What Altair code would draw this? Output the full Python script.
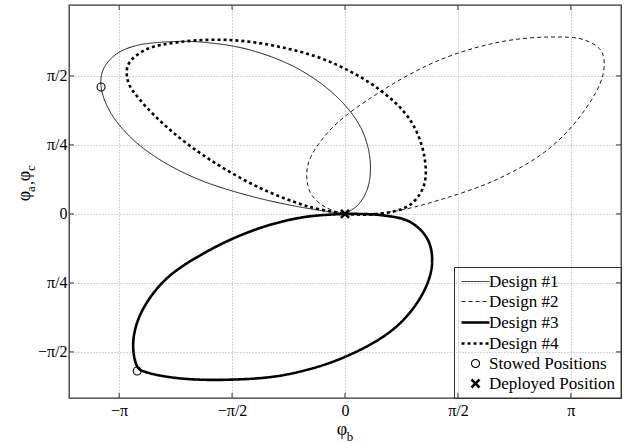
import altair as alt
import pandas as pd

# ---- data (angles in units of pi) ----
series_names = ["Design #1", "Design #2", "Design #3", "Design #4",
                "Stowed Positions", "Deployed Position"]

d1_x = [0, -0.199, -0.420, -0.642, -0.819, -0.951, -1.040, -1.080, -1.071, -1.018,
        -0.929, -0.796, -0.642, -0.420, -0.199, -0.022, 0.075, 0.111, 0.102, 0.058, 0]
d1_y = [0, 0.025, 0.065, 0.123, 0.196, 0.279, 0.370, 0.460, 0.522, 0.576,
        0.609, 0.623, 0.623, 0.594, 0.522, 0.413, 0.304, 0.196, 0.098, 0.033, 0]

d2_x = [0, 0.199, 0.420, 0.686, 0.907, 1.062, 1.142, 1.137, 1.062, 0.907,
        0.686, 0.420, 0.155, -0.066, -0.164, -0.155, -0.088, 0]
d2_y = [0, 0.007, 0.051, 0.130, 0.239, 0.377, 0.504, 0.587, 0.630, 0.641,
        0.623, 0.558, 0.442, 0.304, 0.178, 0.080, 0.025, 0]

d3_x = [0, 0.155, 0.288, 0.367, 0.385, 0.341, 0.221, 0, -0.265, -0.531, -0.752,
        -0.885, -0.916, -0.938, -0.907, -0.796, -0.597, -0.376, -0.177, 0]
d3_y = [0, -0.004, -0.029, -0.094, -0.185, -0.293, -0.413, -0.518, -0.583, -0.601, -0.594,
        -0.572, -0.558, -0.475, -0.366, -0.239, -0.130, -0.051, -0.011, 0]

d4_x = [0, 0.155, 0.288, 0.350, 0.350, 0.288, 0.155, -0.066, -0.288, -0.509,
        -0.730, -0.885, -0.960, -0.960, -0.907, -0.774, -0.597, -0.376, -0.155, 0]
d4_y = [0, 0, 0.033, 0.105, 0.214, 0.341, 0.449, 0.551, 0.605, 0.630,
        0.623, 0.594, 0.540, 0.478, 0.413, 0.304, 0.196, 0.094, 0.025, 0]

stowed_x = [-1.080, -0.920]
stowed_y = [0.460, -0.569]
deployed_x = [0]
deployed_y = [0]

x_tick_vals = [-1, -0.5, 0, 0.5, 1]
x_tick_labels = ["−π", "−π/2", "0", "π/2", "π"]
y_tick_vals = [-0.5, -0.25, 0, 0.25, 0.5]
y_tick_labels = ["−π/2", "π/4", "0", "π/4", "π/2"]

# ---- tables ----
rows = []
for name, xs, ys in [("Design #1", d1_x, d1_y), ("Design #2", d2_x, d2_y),
                     ("Design #3", d3_x, d3_y), ("Design #4", d4_x, d4_y)]:
    for i, (a, b) in enumerate(zip(xs, ys)):
        rows.append({"series": name, "x": a, "y": b, "order": i})
lines_df = pd.DataFrame(rows)

prow = []
for a, b in zip(stowed_x, stowed_y):
    prow.append({"series": "Stowed Positions", "x": a, "y": b})
for a, b in zip(deployed_x, deployed_y):
    prow.append({"series": "Deployed Position", "x": a, "y": b})
pts_df = pd.DataFrame(prow)

xt_df = pd.DataFrame({"v": x_tick_vals})
yt_df = pd.DataFrame({"v": y_tick_vals})


def label_expr(vals, labels):
    return " : ".join(f"datum.value == {v} ? '{l}'" for v, l in zip(vals, labels)) + " : ''"


FONT = "Liberation Serif, Times New Roman, serif"
W, H = 552, 393
xscale = alt.Scale(domain=[-1.222, 1.222], nice=False, zero=False)
yscale = alt.Scale(domain=[-0.667, 0.757], nice=False, zero=False)

xaxis = alt.Axis(values=x_tick_vals, labelExpr=label_expr(x_tick_vals, x_tick_labels),
                 title=None, grid=True, ticks=False, domain=False, labelPadding=4)
yaxis = alt.Axis(values=y_tick_vals, labelExpr=label_expr(y_tick_vals, y_tick_labels),
                 title=None, grid=True, ticks=False, domain=False, labelPadding=2)

legend = alt.Legend(title=None, orient="bottom-right", offset=0)

dash_scale = alt.Scale(domain=series_names,
                       range=[[1, 0], [4, 3], [1, 0], [3, 3], [1, 0], [1, 0]])
width_scale = alt.Scale(type="ordinal", domain=series_names,
                        range=[0.9, 0.9, 2.6, 2.6, 1.1, 2.6])
LINE = "M-1.55,0L1.55,0"
shape_scale = alt.Scale(domain=series_names,
                        range=[LINE, LINE, LINE, LINE,
                               "circle", "M-1,-1L1,1M-1,1L1,-1"])
size_scale = alt.Scale(type="ordinal", domain=series_names,
                       range=[324, 324, 324, 324, 64, 64])

lines = alt.Chart(lines_df).mark_line(color="black", interpolate="catmull-rom").encode(
    x=alt.X("x:Q", scale=xscale, axis=xaxis),
    y=alt.Y("y:Q", scale=yscale, axis=yaxis),
    order="order:Q",
    strokeDash=alt.StrokeDash("series:N", scale=dash_scale, legend=legend),
    strokeWidth=alt.StrokeWidth("series:N", scale=width_scale, legend=legend),
)

points = alt.Chart(pts_df).mark_point(color="black", filled=False, opacity=1).encode(
    x=alt.X("x:Q", scale=xscale),
    y=alt.Y("y:Q", scale=yscale),
    shape=alt.Shape("series:N", scale=shape_scale, legend=legend),
    size=alt.Size("series:N", scale=size_scale, legend=legend),
    strokeWidth=alt.StrokeWidth("series:N", scale=width_scale, legend=legend),
)

# inward tick marks on all four sides (MATLAB style)
TK = 5
tick_color = "#333"
xt_bottom = alt.Chart(xt_df).mark_rule(color=tick_color, strokeWidth=1).encode(
    x=alt.X("v:Q", scale=xscale), y=alt.value(H), y2=alt.value(H - TK))
xt_top = alt.Chart(xt_df).mark_rule(color=tick_color, strokeWidth=1).encode(
    x=alt.X("v:Q", scale=xscale), y=alt.value(0), y2=alt.value(TK))
yt_left = alt.Chart(yt_df).mark_rule(color=tick_color, strokeWidth=1).encode(
    y=alt.Y("v:Q", scale=yscale), x=alt.value(0), x2=alt.value(TK))
yt_right = alt.Chart(yt_df).mark_rule(color=tick_color, strokeWidth=1).encode(
    y=alt.Y("v:Q", scale=yscale), x=alt.value(W), x2=alt.value(W - TK))

title_df = pd.DataFrame({
    "t": ["φ", "b", "φ", "a", ",", "φ", "c"],
    "px": [273, 281, -44, -38, -41, -44, -38],
    "py": [425, 432, 191, 184, 178, 171, 163],
    "fs": [18, 13, 18, 13, 16, 18, 13],
    "ang": [0, 0, 270, 270, 270, 270, 270],
})
titles = []
for _, r in title_df.iterrows():
    titles.append(
        alt.Chart(pd.DataFrame({"t": [r["t"]]})).mark_text(
            font=FONT, fontSize=int(r["fs"]), angle=int(r["ang"]), color="black",
            align="center", baseline="middle"
        ).encode(x=alt.value(int(r["px"])), y=alt.value(int(r["py"])), text="t:N")
    )

chart = alt.layer(xt_bottom, xt_top, yt_left, yt_right, lines, points, *titles).resolve_scale(
    strokeWidth="shared"
).properties(
    width=W, height=H,
    padding={"left": 69, "top": 5, "right": 3, "bottom": 45},
    autosize=alt.AutoSizeParams(type="none"),
).configure_view(
    stroke="#333", strokeWidth=1.3
).configure_axis(
    labelFont=FONT, labelFontSize=16, labelColor="black",
    gridColor="#aaa", gridDash=[1, 2], gridWidth=1, gridOpacity=1,
).configure_legend(
    labelFont=FONT, labelFontSize=17, labelColor="black", labelLimit=300,
    strokeColor="#333", padding=5, rowPadding=2, labelOffset=3, symbolOffset=6,
    symbolStrokeColor="black", symbolFillColor="transparent",
    cornerRadius=0,
)

chart.save("out.html", embed_options={"renderer": "svg", "actions": False})
